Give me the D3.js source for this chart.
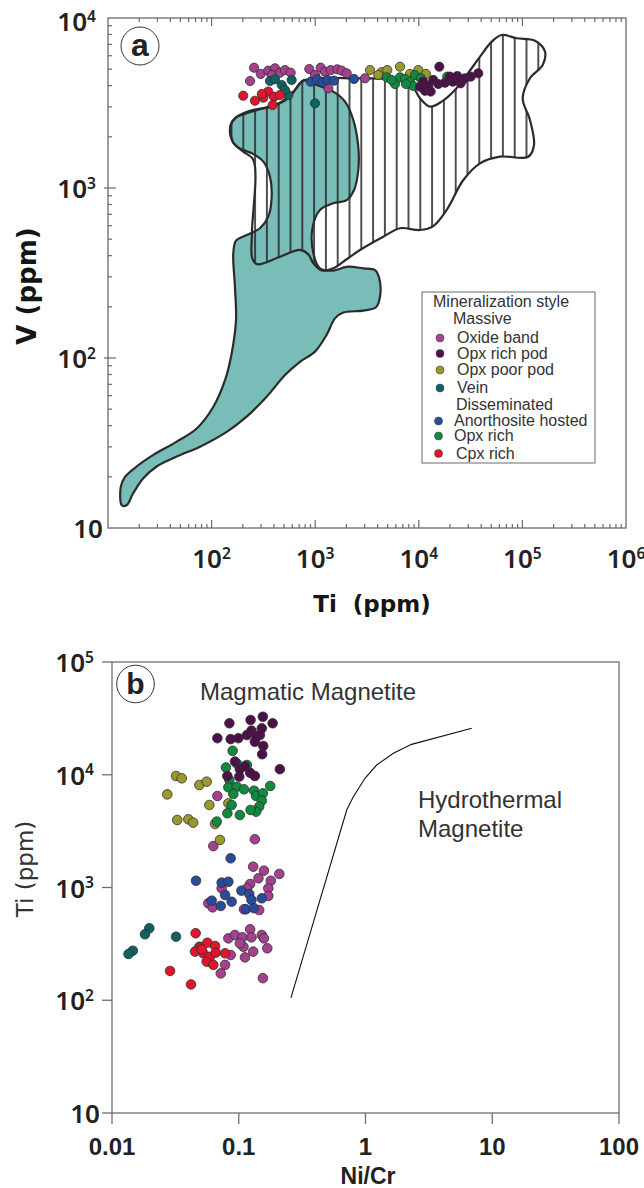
<!DOCTYPE html>
<html>
<head>
<meta charset="utf-8">
<script src="https://cdn.jsdelivr.net/npm/d3@7"></script>
<style>
  body { margin: 0; background: #fff; }
  svg { display: block; }
</style>
</head>
<body>
<svg id="fig" width="644" height="1188"></svg>
<script>
// ---------- mineralization styles ----------
const styleNames = ["Oxide band", "Opx rich pod", "Opx poor pod", "Vein", "Anorthosite hosted", "Opx rich", "Cpx rich"];
const styleColors = ["#a4418f", "#4e1049", "#9b982e", "#0c6361", "#2a4a9c", "#0f8a3e", "#e3142b"];

// ---------- panel a : Ti (ppm) vs V (ppm) ----------
const aOxideBand = [[257,5100],[235,4260],[298,4690],[352,4900],[409,5060],[457,4770],[511,4940],[580,4770],[380,4620],[877,5010],[1130,5100],[1244,4830],[1413,4940],[1634,4990],[1803,4900],[2014,4730],[1338,3860],[3027,4420],[995,4620]];
const aOpxRichPod = [[15780,5170],[11050,4220],[12360,3980],[13800,4320],[11480,3730],[13030,3690],[15420,4090],[17900,4160],[21240,4220],[23550,4560],[25370,4130],[27920,4420],[31700,4520],[37500,4730],[20000,4520],[10280,3940]];
const aOpxPoorPod = [[3380,4940],[4385,4800],[4965,4940],[6590,5170],[8220,4690],[9890,4940],[11720,4690],[4065,4620]];
const aVein = [[366,4260],[475,4035],[593,4320],[550,3520],[995,3150],[511,3770],[409,4360]];
const aAnorthosite = [[905,4220],[1048,4360],[1181,4190],[1309,4320],[1517,4280],[2371,4380]];
const aOpxRich = [[4900,4480],[5890,4090],[6590,4480],[7360,4380],[8220,4220],[9190,4620],[10430,4420],[8850,3980],[7520,4090],[18840,4520],[5470,4320]];
const aCpxRich = [[202,3490],[262,3260],[316,3400],[352,3690],[400,3443],[457,3520],[389,3077],[305,3570]];

// reference fields (outline vertices, Ti ppm / V ppm)
const tealField = [[13.6,13.6],[13.3,17.5],[14.6,20.0],[18.9,23.0],[27.4,26.9],[46,32.2],[71.8,38.5],[104,51.7],[135,74.3],[156,106],[172,167],[168,262],[162,413],[172,490],[218,529],[293,580],[352,678],[380,889],[366,1164],[316,1429],[244,1600],[175,1750],[153,2004],[153,2350],[175,2626],[235,2850],[340,2985],[475,3220],[638,3770],[780,4320],[1033,4035],[1496,3690],[1940,3220],[2333,2512],[2606,1750],[2606,1276],[2371,973],[2014,849],[1496,813],[1112,743],[946,592],[959,413],[1112,337],[1496,327],[2014,344],[2911,337],[3776,329],[4155,294],[4220,229],[3864,199],[2911,190],[1866,185],[1552,171],[1291,137],[995,109],[713,95],[511,79.4],[340,59.2],[218,45.2],[140,36.8],[77.3,30.1],[46,26.3],[29.5,23.0],[21.9,19.6],[17.5,16.0],[15.1,13.6]];
const hatchField = [[153,2350],[168,2570],[218,2750],[293,2904],[425,3077],[571,3443],[741,4220],[1033,4420],[2333,4420],[6590,4320],[8530,4035],[10280,3370],[12820,3010],[16630,3220],[22340,3770],[28980,4620],[39000,5920],[50580,7260],[63100,7940],[88100,7600],[132400,7350],[165200,6340],[157000,5290],[118300,4420],[100700,3370],[118300,2512],[129400,1790],[114000,1528],[60800,1528],[39000,1397],[26900,1114],[18580,743],[13800,597],[10280,566],[6590,580],[4540,517],[2706,432],[2014,381],[1496,337],[1156,327],[959,361],[858,407],[713,432],[457,394],[276,356],[247,386],[245,542],[253,1462],[202,1636],[160,1871]];

const aXTickExps = [2, 3, 4, 5, 6];
const aYTickExps = [1, 2, 3, 4];

// ---------- panel b : Ni/Cr vs Ti (ppm) ----------
const bOxideBand = [[0.0678,6480],[0.134,2680],[0.063,2330],[0.130,1530],[0.158,1410],[0.209,1318],[0.143,1207],[0.179,1148],[0.123,1074],[0.171,984],[0.116,984],[0.171,841],[0.145,631],[0.11,641],[0.0733,984],[0.0575,724],[0.0622,667],[0.0828,354],[0.0933,379],[0.107,361],[0.123,426],[0.126,361],[0.152,379],[0.158,354],[0.109,298],[0.13,270],[0.168,289],[0.112,240],[0.0863,252],[0.078,206],[0.0721,173],[0.155,157],[0.102,320],[0.0489,298]];
const bOpxRichPod = [[0.0844,28600],[0.124,30600],[0.155,32700],[0.185,28600],[0.0678,21100],[0.0863,20700],[0.0993,21100],[0.116,22500],[0.126,24600],[0.138,21800],[0.152,25800],[0.147,22500],[0.156,18000],[0.153,15200],[0.134,19600],[0.211,11200],[0.0933,13100],[0.102,11200],[0.123,10400],[0.134,9750],[0.0813,9750],[0.101,9610],[0.112,11900]];
const bOpxPoorPod = [[0.032,9750],[0.0355,9300],[0.0489,8110],[0.0558,8680],[0.0273,6700],[0.0586,5390],[0.0327,3970],[0.04,4030],[0.0437,3760],[0.065,3660],[0.0828,5580],[0.0711,2640]];
const bVein = [[0.0197,435],[0.0182,385],[0.032,366],[0.0146,275],[0.0135,257]];
const bAnorthosite = [[0.0863,1816],[0.046,1148],[0.0733,1104],[0.0828,1125],[0.078,858],[0.0879,748],[0.0612,764],[0.0721,686],[0.105,937],[0.121,875],[0.126,775],[0.152,802],[0.114,641],[0.132,655]];
const bOpxRich = [[0.0895,16300],[0.0792,11600],[0.0844,8980],[0.0828,7740],[0.0964,7830],[0.11,7430],[0.132,7220],[0.137,6480],[0.155,6840],[0.177,7950],[0.152,5890],[0.145,5210],[0.137,4700],[0.124,4870],[0.102,4390],[0.0879,5390],[0.0813,4550],[0.067,3840],[0.0906,6750],[0.0964,12600],[0.116,12200]];
const bCpxRich = [[0.0457,393],[0.0565,324],[0.0494,295],[0.065,303],[0.0452,270],[0.0525,261],[0.0593,243],[0.0658,264],[0.078,261],[0.0558,220],[0.063,206],[0.0287,182],[0.042,138],[0.051,283]];

// magmatic / hydrothermal discrimination line
const hydroBoundary = [[0.258,105],[0.711,4870],[0.802,6380],[0.99,9300],[1.225,12200],[1.66,15500],[2.31,18600],[6.89,25800]];

const bXTicks = [0.01, 0.1, 1, 10, 100];
const bXTickLabels = ["0.01", "0.1", "1", "10", "100"];
const bYTickExps = [1, 2, 3, 4, 5];

// ---------- drawing ----------
const svg = d3.select("#fig");
const numFont = "'Noto Sans', sans-serif";
const arial = "'Liberation Sans', Arial, sans-serif";

function powLabel(g, exp, x, y, anchor, size) {
  const t = g.append("text")
    .attr("x", x).attr("y", y).attr("text-anchor", anchor)
    .attr("font-family", numFont).attr("font-weight", 600)
    .attr("font-size", size).attr("fill", "#222");
  t.append("tspan").text("10");
  if (exp !== 1) t.append("tspan").attr("font-size", size * 0.6).attr("dy", -size * 0.36).text(exp);
  return t;
}

const isMajor = v => Math.abs(Math.log10(v) - Math.round(Math.log10(v))) < 1e-9;

// ===== Panel a =====
const xA = d3.scaleLog().domain([10, 1e6]).range([108, 626]);
const yA = d3.scaleLog().domain([10, 1e4]).range([528, 18]);
const gA = svg.append("g");

const defs = svg.append("defs");
defs.append("clipPath").attr("id", "clipA")
  .append("rect").attr("x", 108).attr("y", 18).attr("width", 518).attr("height", 510);
const pat = defs.append("pattern").attr("id", "vhatch")
  .attr("patternUnits", "userSpaceOnUse")
  .attr("x", 1.4).attr("y", 0).attr("width", 11.8).attr("height", 20);
pat.append("line").attr("x1", 5.9).attr("x2", 5.9).attr("y1", -1).attr("y2", 21)
  .attr("stroke", "#262626").attr("stroke-width", 1.6);

const fieldLine = d3.line()
  .x(d => xA(d[0])).y(d => yA(d[1]))
  .curve(d3.curveCatmullRomClosed.alpha(0.5));

const plotA = gA.append("g").attr("clip-path", "url(#clipA)");
plotA.append("path").attr("d", fieldLine(tealField)).attr("fill", "#79bdb8");
plotA.append("path").attr("d", fieldLine(hatchField)).attr("fill", "url(#vhatch)");
plotA.append("path").attr("d", fieldLine(tealField)).attr("fill", "none")
  .attr("stroke", "#2b2b2b").attr("stroke-width", 2.2).attr("stroke-linejoin", "round");
plotA.append("path").attr("d", fieldLine(hatchField)).attr("fill", "none")
  .attr("stroke", "#2b2b2b").attr("stroke-width", 2.2).attr("stroke-linejoin", "round");

// draw order: oxide, poor pod, opx rich, rich pod, vein, anorthosite, cpx
const order = [0, 2, 5, 1, 3, 4, 6];
const aSeries = [aOxideBand, aOpxRichPod, aOpxPoorPod, aVein, aAnorthosite, aOpxRich, aCpxRich];
order.forEach(i => {
  plotA.append("g").selectAll("circle").data(aSeries[i]).join("circle")
    .attr("cx", d => xA(d[0])).attr("cy", d => yA(d[1])).attr("r", 4.6)
    .attr("fill", styleColors[i]).attr("stroke", "#2e2e2e").attr("stroke-width", 0.8);
});

// frame + inward ticks (bottom, top, left)
gA.append("rect").attr("x", 108).attr("y", 18).attr("width", 518).attr("height", 510)
  .attr("fill", "none").attr("stroke", "#6a6a6a").attr("stroke-width", 1.3);
const tickA = gA.append("g").attr("stroke", "#6a6a6a").attr("stroke-width", 1.2);
xA.ticks().forEach(v => {
  const x = xA(v), len = isMajor(v) ? 8 : 4;
  if (x <= 108.5 || x >= 625.5) return;
  tickA.append("line").attr("x1", x).attr("x2", x).attr("y1", 528).attr("y2", 528 - len);
  tickA.append("line").attr("x1", x).attr("x2", x).attr("y1", 18).attr("y2", 18 + len);
});
yA.ticks().forEach(v => {
  const y = yA(v), len = isMajor(v) ? 8 : 4;
  if (y >= 527.5 || y <= 18.5) return;
  tickA.append("line").attr("x1", isMajor(v) ? 104 : 108).attr("x2", 108 + len).attr("y1", y).attr("y2", y);
});

aXTickExps.forEach(e => powLabel(gA, e, xA(Math.pow(10, e)), 568, "middle", 26));
aYTickExps.forEach(e => powLabel(gA, e, e === 1 ? 103 : 96, Math.max(yA(Math.pow(10, e)) + 10, 31), "end", 26));

gA.append("text").attr("x", 372).attr("y", 612).attr("text-anchor", "middle")
  .attr("font-family", "'DejaVu Sans', sans-serif").attr("font-weight", "bold")
  .attr("font-size", 23).attr("fill", "#151515").style("white-space", "pre").text("Ti  (ppm)");
gA.append("text").attr("transform", "translate(36,286) rotate(-90)").attr("text-anchor", "middle")
  .attr("font-family", "'DejaVu Sans', sans-serif").attr("font-weight", "bold")
  .attr("font-size", 26).attr("fill", "#151515").text("V (ppm)");

// panel letter
gA.append("circle").attr("cx", 140).attr("cy", 46).attr("r", 19)
  .attr("fill", "#fff").attr("stroke", "#333").attr("stroke-width", 1);
gA.append("text").attr("x", 140).attr("y", 56).attr("text-anchor", "middle")
  .attr("font-family", arial).attr("font-weight", "bold").attr("font-size", 32).attr("fill", "#222").text("a");

// legend
const lg = gA.append("g").attr("font-family", arial).attr("font-size", 16).attr("fill", "#333");
lg.append("rect").attr("x", 422).attr("y", 292).attr("width", 173).attr("height", 171)
  .attr("fill", "#fff").attr("stroke", "#6a6a6a").attr("stroke-width", 1);
lg.append("text").attr("x", 433).attr("y", 307).text("Mineralization style");
lg.append("text").attr("x", 453).attr("y", 324).text("Massive");
lg.append("text").attr("x", 456).attr("y", 410).text("Disseminated");
const legendRows = [
  { i: 0, cx: 440, tx: 457, y: 343 },
  { i: 1, cx: 440, tx: 457, y: 358.5 },
  { i: 2, cx: 440, tx: 457, y: 375 },
  { i: 3, cx: 440, tx: 457, y: 393 },
  { i: 4, cx: 438.5, tx: 454, y: 426 },
  { i: 5, cx: 438.5, tx: 454, y: 441 },
  { i: 6, cx: 438.5, tx: 456, y: 458.5 }
];
legendRows.forEach(r => {
  lg.append("circle").attr("cx", r.cx).attr("cy", r.y - 5).attr("r", 4)
    .attr("fill", styleColors[r.i]).attr("stroke", "#444").attr("stroke-width", 0.6);
  lg.append("text").attr("x", r.tx).attr("y", r.y).text(styleNames[r.i]);
});

// ===== Panel b =====
const xB = d3.scaleLog().domain([0.01, 100]).range([112, 619]);
const yB = d3.scaleLog().domain([10, 1e5]).range([1113, 662]);
const gB = svg.append("g");

gB.append("rect").attr("x", 112).attr("y", 662).attr("width", 507).attr("height", 451)
  .attr("fill", "none").attr("stroke", "#6f6f6f").attr("stroke-width", 1.3);
const tickB = gB.append("g").attr("stroke", "#6f6f6f").attr("stroke-width", 1.3);
bYTickExps.forEach(e => {
  const y = yB(Math.pow(10, e));
  tickB.append("line").attr("x1", 102).attr("x2", 112).attr("y1", y).attr("y2", y);
});
bXTicks.forEach(v => {
  const x = xB(v);
  tickB.append("line").attr("x1", x).attr("x2", x).attr("y1", 1113).attr("y2", 1124);
});

bYTickExps.forEach(e => powLabel(gB, e, e === 1 ? 100 : 94, yB(Math.pow(10, e)) + 10, "end", 26));
bXTicks.forEach((v, k) => {
  gB.append("text").attr("x", xB(v)).attr("y", 1155).attr("text-anchor", "middle")
    .attr("font-family", arial).attr("font-weight", "bold").attr("font-size", 24)
    .attr("fill", "#222").text(bXTickLabels[k]);
});
gB.append("text").attr("x", 368).attr("y", 1184).attr("text-anchor", "middle")
  .attr("font-family", arial).attr("font-weight", "bold").attr("font-size", 23)
  .attr("fill", "#222").text("Ni/Cr");
gB.append("text").attr("transform", "translate(33,869) rotate(-90)").attr("text-anchor", "middle")
  .attr("font-family", "'DejaVu Sans', sans-serif")
  .attr("font-size", 23).attr("fill", "#333").text("Ti (ppm)");

gB.append("path").datum(hydroBoundary)
  .attr("d", d3.line().x(d => xB(d[0])).y(d => yB(d[1])))
  .attr("fill", "none").attr("stroke", "#111").attr("stroke-width", 1.1);

const bSeries = [bOxideBand, bOpxRichPod, bOpxPoorPod, bVein, bAnorthosite, bOpxRich, bCpxRich];
order.forEach(i => {
  gB.append("g").selectAll("circle").data(bSeries[i]).join("circle")
    .attr("cx", d => xB(d[0])).attr("cy", d => yB(d[1])).attr("r", 4.8)
    .attr("fill", styleColors[i]).attr("stroke", "#2e2e2e").attr("stroke-width", 0.8);
});

const noteFont = { family: arial, size: 24, fill: "#333" };
[["Magmatic Magnetite", 200, 700], ["Hydrothermal", 418, 808], ["Magnetite", 418, 837]].forEach(([t, x, y]) => {
  gB.append("text").attr("x", x).attr("y", y)
    .attr("font-family", noteFont.family).attr("font-size", noteFont.size)
    .attr("fill", noteFont.fill).text(t);
});

gB.append("circle").attr("cx", 135.5).attr("cy", 684).attr("r", 18.8)
  .attr("fill", "#fff").attr("stroke", "#333").attr("stroke-width", 1);
gB.append("text").attr("x", 135.5).attr("y", 694).attr("text-anchor", "middle")
  .attr("font-family", arial).attr("font-weight", "bold").attr("font-size", 30).attr("fill", "#222").text("b");
</script>
</body>
</html>
